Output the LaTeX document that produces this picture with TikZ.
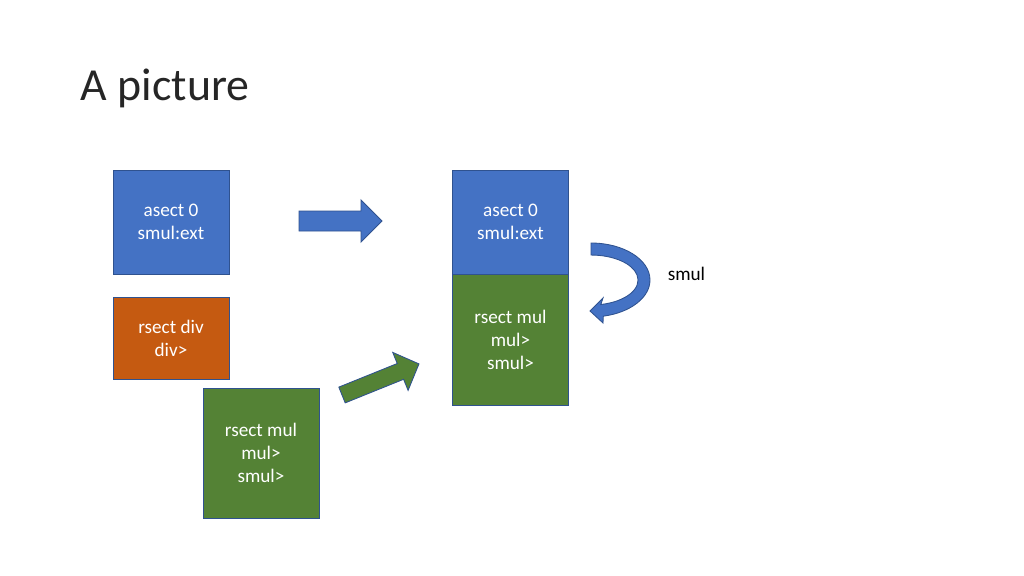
\documentclass[tikz,border=0pt]{standalone}
\usepackage{fontspec}
\setmainfont{Carlito}
\usepackage{xcolor}
\usepackage{tikz}
\usetikzlibrary{positioning,calc}
\definecolor{offblue}{HTML}{4472C4}
\definecolor{offline}{HTML}{2F528F}
\definecolor{offorange}{HTML}{C55A11}
\definecolor{offgreen}{HTML}{548235}

\begin{document}
\begin{tikzpicture}[x=0.9375pt, y=-0.9375pt, font=\fontsize{18}{21.6}\selectfont,
  box/.style={draw=offline, line width=0.8pt, align=center, text=white, inner sep=0pt, outer sep=0pt,
    minimum width=116*0.9375pt},
  blk/.style={draw=offline, line width=0.8pt, line join=miter}]
  \useasboundingbox (0,0) rectangle (1024,576);
  \node[anchor=base west, font=\fontsize{43}{52}\selectfont, text=black!85] (title) at (77,101) {A picture};
  % left column
  \node[box, fill=offblue, minimum height=104*0.9375pt] (as0) at (171,222) {asect 0\\smul:ext};
  \node[box, fill=offorange, minimum height=82*0.9375pt, below=23*0.9375pt of as0] (rdiv) {rsect div\\div>};
  \node[box, fill=offgreen, minimum height=130*0.9375pt] (rmul0) at (261,453) {rsect mul\\mul>\\smul>};
  % right stack
  \node[box, fill=offblue, minimum height=104*0.9375pt] (as1) at (510.5,222) {asect 0\\smul:ext};
  \node[box, fill=offgreen, minimum height=131*0.9375pt, below=0pt of as1] (rmul1) {rsect mul\\mul>\\smul>};
  \node[anchor=west] (lbl) at (664,274) {smul};
  % block arrows
  \draw[blk, fill=offblue] (299,211) -- (361,211) -- (361,200) -- (382,221) -- (361,242) -- (361,231) -- (299,231) -- cycle;
  \begin{scope}[shift={(342,395)}, rotate=22]
    \draw[blk, fill=offgreen] (0,-8.5) -- (63,-8.5) -- (63,-20.5) -- (83,0) -- (63,20.5) -- (63,8.5) -- (0,8.5) -- cycle;
  \end{scope}
  % curved arrow
  \draw[blk, fill=offblue] (591,243) arc[start angle=-90, end angle=78, x radius=59, y radius=37]
    -- (603,323) -- (590,311) -- (603,298) -- (600.8,304.5)
    arc[start angle=78, end angle=-90, x radius=47, y radius=25] -- cycle;
\end{tikzpicture}
\end{document}
